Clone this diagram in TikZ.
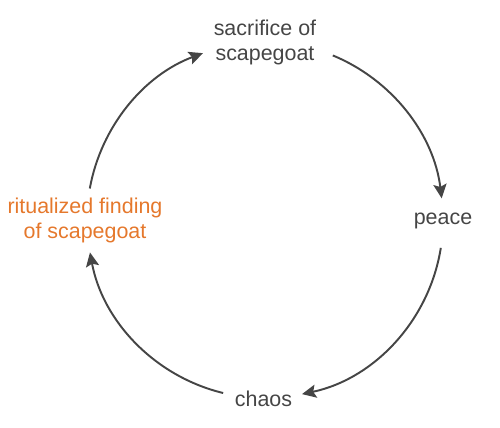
\documentclass[tikz,border=0pt]{standalone}
\usepackage{fontspec}
\setmainfont{Liberation Sans}
\usetikzlibrary{arrows.meta}
\definecolor{txtgray}{HTML}{454545}
\definecolor{ritorange}{HTML}{E5782C}

\begin{document}
\begin{tikzpicture}[x=1.0cm,y=1.0cm]
  \tikzstyle{lbl}=[align=center,text=txtgray,inner sep=1pt,font=\fontsize{12.2}{14.2}\selectfont]
  \tikzstyle{cyc}=[-{Stealth[length=8pt,width=7.5pt,inset=1.5pt]},line width=1.1pt,draw=txtgray]
  \useasboundingbox (-5.3,-4.14) rectangle (4.7,4.4);

  \node[lbl] (sac) at (0,3.56) {sacrifice of\\scapegoat};
  \node[lbl] (peace) at (3.56,-0.02) {peace};
  \node[lbl] (chaos) at (-0.03,-3.58) {chaos};
  \node[lbl,text=ritorange] (rit) at (-3.6,0) {ritualized finding\\of scapegoat};

  % arc starts on the circle
  \coordinate (ritout) at (169.8:3.56);
  \coordinate (sacout) at (67.6:3.56);
  \coordinate (peaceout) at (-9:3.56);
  \coordinate (chaosout) at (-103.6:3.56);

  \draw[cyc] (ritout) arc[start angle=169.8,end angle=110.4,radius=3.56];
  \draw[cyc] (sacout) arc[start angle=67.6,end angle=7,radius=3.56];
  \draw[cyc] (peaceout) arc[start angle=-9,end angle=-78,radius=3.56];
  \draw[cyc] (chaosout) arc[start angle=-103.6,end angle=-169.5,radius=3.56];
\end{tikzpicture}
\end{document}
